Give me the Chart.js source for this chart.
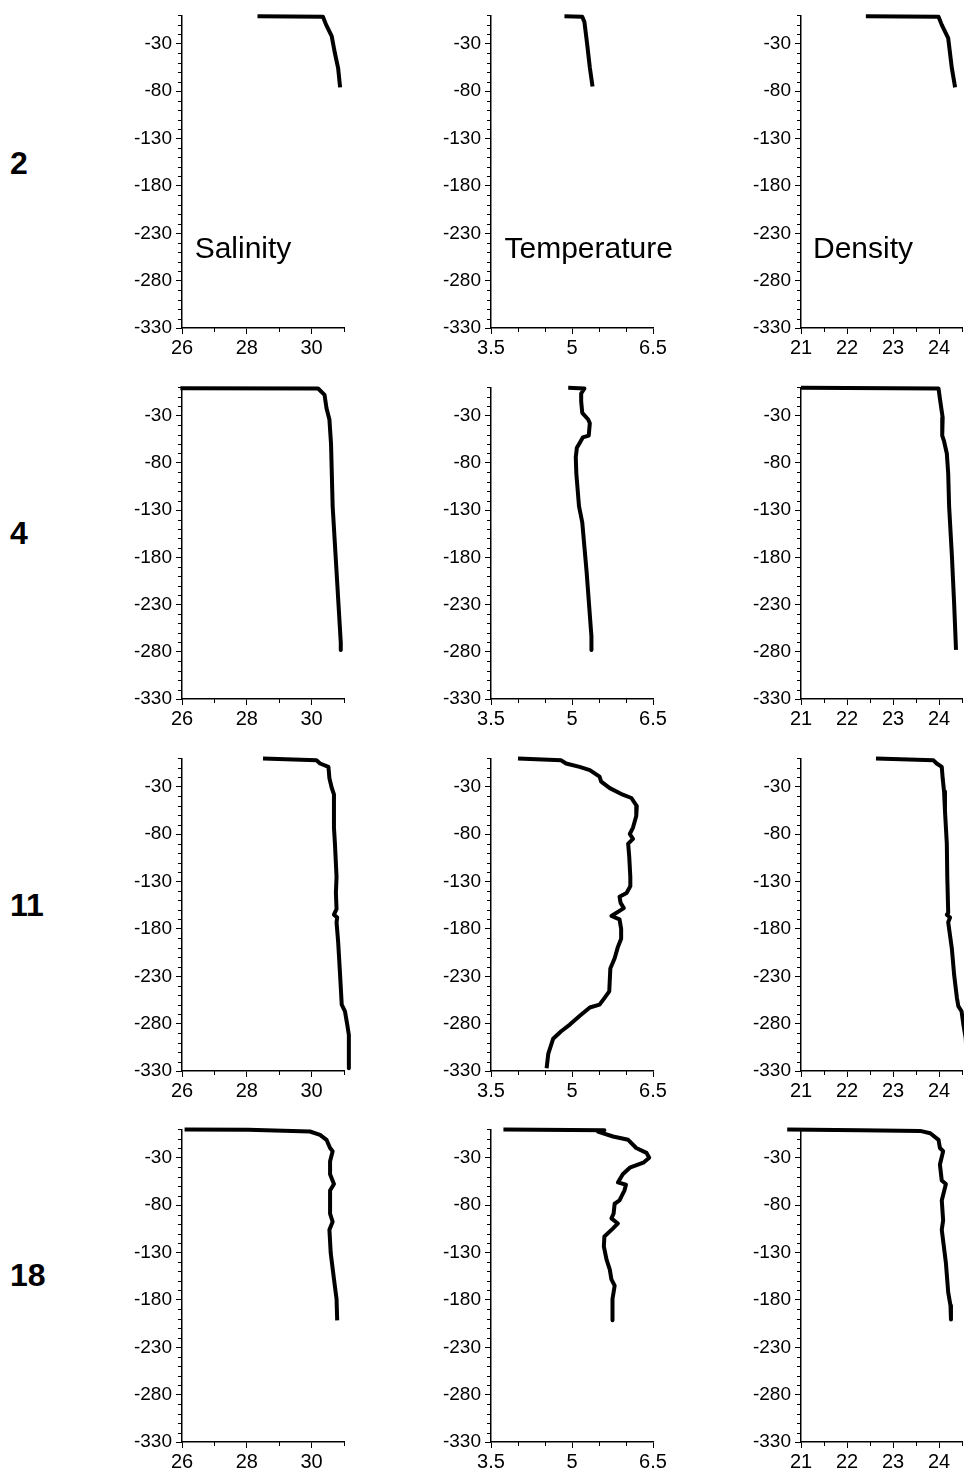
<!DOCTYPE html>
<html lang="en">
<head>
<meta charset="UTF-8">
<title>CTD profiles</title>
<style>
  html, body { margin: 0; padding: 0; background: #fff; overflow: hidden; }
  body { position: relative; width: 964px; height: 1479px; }
  canvas { position: absolute; }
  .station { position: absolute; left: 10px; font: bold 32px Arial, "Liberation Sans", sans-serif; line-height: 32px; color: #000; }
</style>
</head>
<body>
<script src="https://cdn.jsdelivr.net/npm/chart.js"></script>
<script>
    // profiles as [value, depth] pairs
    const stations = ['2', '4', '11', '18'];

    const sal2 = [[28.33, -1], [30.35, -1.5], [30.45, -10], [30.62, -22], [30.72, -40], [30.82, -56], [30.88, -76]];
    const tem2 = [[4.86, -1], [5.19, -1.5], [5.23, -7], [5.28, -30], [5.33, -55], [5.38, -75]];
    const den2 = [[22.41, -1], [23.99, -1.5], [24.06, -10], [24.2, -24], [24.28, -56], [24.35, -76]];

    const sal4 = [[25.95, -1], [30.2, -1.2], [30.4, -8], [30.46, -22], [30.55, -34], [30.6, -60], [30.65, -126],
        [30.77, -195], [30.9, -270], [30.9, -278]];
    const tem4 = [[4.93, -0.5], [5.23, -1.2], [5.17, -6.5], [5.17, -15], [5.19, -27], [5.30, -34], [5.33, -38],
        [5.31, -51], [5.20, -53], [5.15, -58], [5.09, -64], [5.07, -74], [5.08, -91], [5.13, -126], [5.19, -143],
        [5.27, -195], [5.36, -264], [5.36, -278]];
    const den4 = [[21.0, -0.5], [23.99, -1.2], [24.02, -12], [24.08, -32], [24.07, -51], [24.11, -57], [24.17, -70],
        [24.2, -91], [24.22, -126], [24.28, -178], [24.33, -230], [24.37, -278]];

    const sal11 = [[28.5, -0.2], [30.15, -2], [30.26, -5.4], [30.52, -9], [30.55, -21], [30.62, -31], [30.69, -38],
        [30.69, -73], [30.72, -90], [30.77, -125], [30.75, -142], [30.77, -159], [30.69, -165], [30.79, -168],
        [30.77, -173], [30.82, -194], [30.88, -229], [30.93, -260], [31.03, -267], [31.1, -281], [31.15, -292],
        [31.15, -327]];
    const tem11 = [[4.0, -0.2], [4.80, -2], [4.89, -5.4], [5.14, -9], [5.33, -12.4], [5.51, -19.3], [5.54, -24.5],
        [5.70, -31.4], [5.94, -38.3], [6.10, -41.8], [6.20, -50.4], [6.19, -60.8], [6.13, -73], [6.07, -79.8],
        [6.13, -85], [6.04, -90], [6.06, -104], [6.08, -125], [6.08, -135], [6.01, -142], [5.88, -146],
        [5.90, -152.5], [5.96, -158], [5.88, -161], [5.73, -166.4], [5.88, -170], [5.91, -180], [5.91, -190.5],
        [5.85, -199], [5.79, -211], [5.71, -221.7], [5.69, -246], [5.60, -253], [5.51, -260], [5.33, -263],
        [5.14, -272], [4.96, -281], [4.80, -288], [4.65, -296], [4.56, -312], [4.53, -327]];
    const den11 = [[22.63, -0.2], [23.88, -2], [23.95, -5.4], [24.06, -9], [24.08, -21], [24.11, -35], [24.13, -55.6],
        [24.17, -90], [24.18, -125], [24.2, -163], [24.17, -165], [24.24, -168], [24.2, -173], [24.28, -201],
        [24.33, -229], [24.39, -253], [24.42, -261.5], [24.49, -267], [24.53, -281], [24.58, -295], [24.62, -327]];

    const sal18 = [[26.08, 0], [28.04, -0.5], [29.95, -2.2], [30.26, -5.7], [30.46, -11], [30.57, -19.6], [30.65, -23],
        [30.57, -33.5], [30.57, -47.3], [30.69, -57.7], [30.57, -64.6], [30.57, -89], [30.65, -97.6], [30.55, -106],
        [30.59, -130.5], [30.69, -158], [30.77, -179], [30.79, -201.6]];
    const tem18 = [[3.73, 0], [5.6, -1], [5.48, -2.3], [5.76, -7.5], [6.04, -11], [6.19, -19.6], [6.38, -24.8],
        [6.43, -30], [6.32, -35.2], [6.07, -40.4], [5.94, -47.3], [5.85, -56], [6.0, -58.4], [5.97, -64.6],
        [5.88, -75], [5.79, -78.5], [5.77, -89], [5.73, -94], [5.85, -99.3], [5.76, -104.5], [5.6, -113],
        [5.59, -123.6], [5.64, -137.5], [5.70, -148], [5.73, -158.3], [5.79, -165], [5.75, -179], [5.75, -201.6]];
    const den18 = [[20.70, 0], [22.29, -0.9], [23.59, -1.6], [23.81, -4], [23.99, -11], [24.02, -19.6], [24.09, -23],
        [24.02, -37], [24.06, -54], [24.15, -57.7], [24.06, -75], [24.09, -96], [24.06, -106], [24.15, -141],
        [24.2, -172], [24.25, -186], [24.26, -200.7]];

    const depthTicks = [-330, -280, -230, -180, -130, -80, -30];
    const depthMinor = [-320, -310, -300, -290, -270, -260, -250, -240, -220, -210, -200, -190, -170, -160, -150,
        -140, -120, -110, -100, -90, -70, -60, -50, -40, -20, -10, 0];

    const salTicks = [26, 28, 30];
    const salMinor = [27, 29, 31];
    const temTicks = [3.5, 5, 6.5];
    const temMinor = [4, 4.5, 5.5, 6];
    const denTicks = [21, 22, 23, 24];
    const denMinor = [21.5, 22.5, 23.5, 24.5];

    const profiles = [
        [sal2, tem2, den2],
        [sal4, tem4, den4],
        [sal11, tem11, den11],
        [sal18, tem18, den18]
    ];

    const columns = [
        { min: 26, max: 31, major: salTicks, minor: salMinor, title: 'Salinity', titleAt: [26.39, -256], left: 182, right: 344 },
        { min: 3.5, max: 6.5, major: temTicks, minor: temMinor, title: 'Temperature', titleAt: [3.75, -256], left: 491, right: 653 },
        { min: 21, max: 24.5, major: denTicks, minor: denMinor, title: 'Density', titleAt: [21.26, -256], left: 801, right: 962 }
    ];
    const rowTop = [10, 382, 753, 1124];
    const rowBottom = [328, 699, 1071, 1442];
    const rowLabelTop = [147, 517, 889, 1259];

    const FONT = 'Arial, "Liberation Sans", sans-serif';
    const Y_W = 70, X_H = 40, PAD_T = 10, PAD_R = 24;

    // minor ticks + in-panel title
    const extras = {
        id: 'extras',
        afterDraw(chart, args, opts) {
            const { ctx, scales: { x, y } } = chart;
            ctx.save();
            ctx.strokeStyle = '#000';
            ctx.lineWidth = 1;
            opts.xMinor.forEach(v => {
                const px = Math.round(x.getPixelForValue(v)) + 0.5;
                ctx.beginPath();
                ctx.moveTo(px, y.bottom);
                ctx.lineTo(px, y.bottom + 4);
                ctx.stroke();
            });
            opts.yMinor.forEach(v => {
                const py = Math.round(y.getPixelForValue(v)) + 0.5;
                ctx.beginPath();
                ctx.moveTo(x.left - 4, py);
                ctx.lineTo(x.left, py);
                ctx.stroke();
            });
            if (opts.title) {
                ctx.fillStyle = '#000';
                ctx.font = '30px ' + FONT;
                ctx.textBaseline = 'alphabetic';
                ctx.fillText(opts.title, x.getPixelForValue(opts.titleAt[0]), y.getPixelForValue(opts.titleAt[1]));
            }
            ctx.restore();
        }
    };

    stations.forEach((name, r) => {
        const lab = document.createElement('div');
        lab.className = 'station';
        lab.style.top = rowLabelTop[r] + 'px';
        lab.textContent = name;
        document.body.appendChild(lab);

        columns.forEach((col, c) => {
            const plotW = col.right - col.left;
            const plotH = rowBottom[r] - rowTop[r];
            const cv = document.createElement('canvas');
            cv.width = Y_W + plotW + PAD_R;
            cv.height = PAD_T + plotH + X_H;
            cv.style.left = (col.left - Y_W) + 'px';
            cv.style.top = (rowTop[r] - PAD_T) + 'px';
            document.body.appendChild(cv);

            new Chart(cv.getContext('2d'), {
                type: 'line',
                data: {
                    datasets: [{
                        data: profiles[r][c].map(p => ({ x: p[0], y: p[1] })),
                        borderColor: '#000',
                        borderWidth: 4,
                        borderJoinStyle: 'round',
                        pointRadius: 0,
                        tension: 0,
                        fill: false,
                        clip: false
                    }]
                },
                options: {
                    responsive: false,
                    animation: false,
                    devicePixelRatio: 1,
                    layout: { autoPadding: false, padding: { top: PAD_T, right: PAD_R, left: 0, bottom: 0 } },
                    plugins: {
                        legend: { display: false },
                        tooltip: { enabled: false },
                        extras: {
                            xMinor: col.minor,
                            yMinor: depthMinor,
                            title: r === 0 ? col.title : null,
                            titleAt: col.titleAt
                        }
                    },
                    scales: {
                        x: {
                            type: 'linear',
                            min: col.min,
                            max: col.max,
                            afterBuildTicks: s => { s.ticks = col.major.map(v => ({ value: v })); },
                            afterFit: s => { s.height = X_H; },
                            ticks: { autoSkip: false, maxRotation: 0, padding: 2, color: '#000', font: { family: FONT, size: 20 }, callback: v => String(v) },
                            grid: { drawOnChartArea: false, tickLength: 6, tickColor: '#000', tickWidth: 1 },
                            border: { color: '#000', width: 1.5 }
                        },
                        y: {
                            type: 'linear',
                            min: -330,
                            max: 0,
                            afterBuildTicks: s => { s.ticks = depthTicks.map(v => ({ value: v })); },
                            afterFit: s => { s.width = Y_W; },
                            ticks: { autoSkip: false, padding: 4, color: '#000', font: { family: FONT, size: 19 }, callback: v => String(v) },
                            grid: { drawOnChartArea: false, tickLength: 6, tickColor: '#000', tickWidth: 1 },
                            border: { color: '#000', width: 1.5 }
                        }
                    }
                },
                plugins: [extras]
            });
        });
    });
</script>
</body>
</html>
